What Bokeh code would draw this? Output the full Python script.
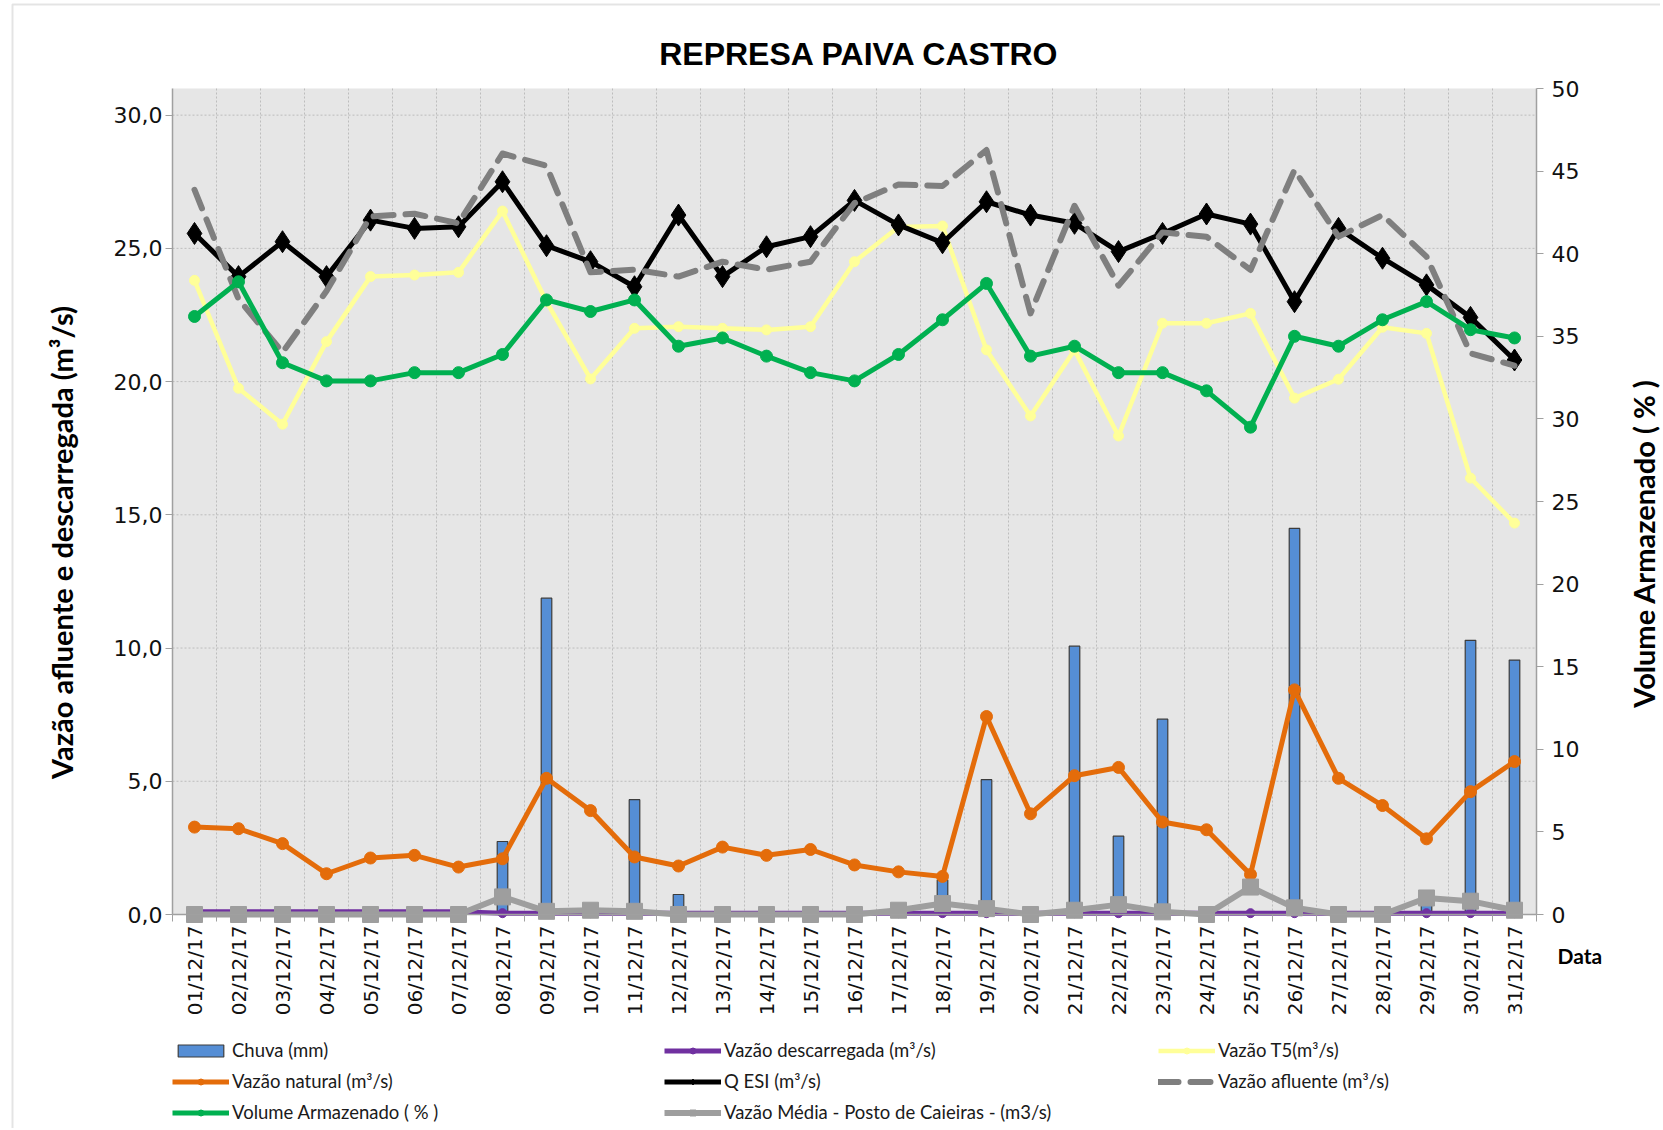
import math
from bokeh.plotting import figure
from bokeh.models import (Range1d, LinearAxis, FixedTicker, CustomJSTickFormatter,
                          Legend, LegendItem, Label, BoxAnnotation)
from bokeh.embed import file_html
from bokeh.resources import INLINE

# ---------------- data ----------------
days = [1, 2, 3, 4, 5, 6, 7, 8, 9, 10, 11, 12, 13, 14, 15, 16,
        17, 18, 19, 20, 21, 22, 23, 24, 25, 26, 27, 28, 29, 30, 31]
dates = ["01/12/17", "02/12/17", "03/12/17", "04/12/17", "05/12/17", "06/12/17",
         "07/12/17", "08/12/17", "09/12/17", "10/12/17", "11/12/17", "12/12/17",
         "13/12/17", "14/12/17", "15/12/17", "16/12/17", "17/12/17", "18/12/17",
         "19/12/17", "20/12/17", "21/12/17", "22/12/17", "23/12/17", "24/12/17",
         "25/12/17", "26/12/17", "27/12/17", "28/12/17", "29/12/17", "30/12/17",
         "31/12/17"]

chuva = [0, 0, 0, 0, 0, 0, 0, 2.74, 11.87, 0, 4.31, 0.75, 0, 0, 0, 0,
         0, 1.3, 5.06, 0, 10.07, 2.94, 7.33, 0, 0, 14.49, 0, 0, 0.5, 10.29, 9.55]
vazao_descarregada = [0.1, 0.1, 0.1, 0.1, 0.1, 0.1, 0.1, 0.05, 0.05, 0.05, 0.05,
                      0.05, 0.05, 0.05, 0.05, 0.05, 0.05, 0.05, 0.05, 0.05, 0.05,
                      0.05, 0.05, 0.05, 0.05, 0.05, 0.05, 0.05, 0.05, 0.05, 0.05]
vazao_t5 = [23.8, 19.75, 18.4, 21.5, 23.94, 24.0, 24.1, 26.4, 23.0, 20.1, 22.0,
            22.06, 22.0, 21.94, 22.06, 24.5, 25.8, 25.84, 21.19, 18.71, 21.19,
            17.96, 22.19, 22.19, 22.56, 19.38, 20.09, 22.04, 21.81, 16.38, 14.69]
vazao_natural = [3.28, 3.22, 2.66, 1.53, 2.12, 2.22, 1.78, 2.09, 5.11, 3.9, 2.16,
                 1.82, 2.53, 2.22, 2.44, 1.86, 1.6, 1.43, 7.43, 3.78, 5.21, 5.52,
                 3.47, 3.18, 1.5, 8.43, 5.11, 4.09, 2.84, 4.61, 5.74]
q_esi = [25.56, 23.94, 25.25, 23.94, 26.06, 25.75, 25.81, 27.5, 25.1, 24.5, 23.56,
         26.25, 23.94, 25.06, 25.44, 26.8, 25.88, 25.21, 26.75, 26.25, 25.94,
         24.88, 25.56, 26.29, 25.91, 23.0, 25.75, 24.63, 23.63, 22.41, 20.81]
vazao_afluente = [27.2, 23.1, 21.1, 23.4, 26.2, 26.3, 25.94, 28.56, 28.1, 24.1, 24.2,
                  23.94, 24.5, 24.2, 24.5, 26.7, 27.4, 27.34, 28.69, 22.56, 26.6,
                  23.6, 25.6, 25.44, 24.19, 27.94, 25.44, 26.25, 24.69, 21.06, 20.6]
volume_armazenado = [36.2, 38.3, 33.4, 32.3, 32.3, 32.8, 32.8, 33.9, 37.2, 36.5, 37.2,
                     34.4, 34.9, 33.8, 32.8, 32.3, 33.9, 36.0, 38.2, 33.8, 34.4,
                     32.8, 32.8, 31.7, 29.5, 35.0, 34.4, 36.0, 37.1, 35.4, 34.9]
vazao_media = [0, 0, 0, 0, 0, 0, 0, 0.66, 0.12, 0.16, 0.12, 0, 0, 0, 0, 0,
               0.16, 0.41, 0.22, 0, 0.16, 0.37, 0.1, 0, 1.03, 0.25, 0, 0, 0.62, 0.5, 0.16]

left_ticks = [0, 5, 10, 15, 20, 25, 30]
right_ticks = [0, 5, 10, 15, 20, 25, 30, 35, 40, 45, 50]

# ---------------- layout (pixels) ----------------
W, H = 1660, 1128
FL, FR, FT, FB = 172, 1536, 88, 914        # plot-area box in pixels
X0, X1 = 0.5, 31.5                         # category extent
YL_TOP, YR_TOP = 31.0, 50.0                # left / right axis top values

KX = (FR - FL) / (X1 - X0)
KY = (FB - FT) / YL_TOP
KR = (FB - FT) / YR_TOP
x_start = X0 - FL / KX
x_end = X1 + (W - FR) / KX
y_top = YL_TOP + FT / KY
y_bot = -(H - FB) / KY
r_top = YR_TOP + FT / KR
r_bot = -(H - FB) / KR


def PX(px):
    return x_start + px / KX


def PY(py):
    return y_top - py / KY


p = figure(width=W, height=H, output_backend="svg", toolbar_location=None,
           x_range=Range1d(x_start, x_end), y_range=Range1d(y_bot, y_top),
           x_axis_location=None, y_axis_location=None, title=None,
           min_border=0, background_fill_color="white", border_fill_color="white",
           outline_line_color=None)
p.extra_y_ranges = {"vol": Range1d(r_bot, r_top)}
p.grid.visible = False

# outer chart border
p.add_layout(BoxAnnotation(left=PX(12), top=PY(4), right=PX(W + 50), bottom=PY(H + 50),
                           fill_alpha=0, line_color="#A6A6A6", line_width=2,
                           level="underlay"))
# plot area background
p.add_layout(BoxAnnotation(left=X0, right=X1, bottom=0, top=YL_TOP,
                           fill_color="#E6E6E6", fill_alpha=1, line_alpha=0,
                           level="underlay"))

AX = "#A0A0A0"
TICKFONT = "DejaVu Sans"

# grid lines (dotted) limited to the plot area
inner_bounds = [d + 0.5 for d in days[:-1]]
p.segment(x0=inner_bounds, x1=inner_bounds, y0=[0] * len(inner_bounds),
          y1=[YL_TOP] * len(inner_bounds), line_color="#BDBDBD", line_dash="2 2",
          line_width=1)
grid_y = left_ticks[1:]
p.segment(x0=[X0] * len(grid_y), x1=[X1] * len(grid_y), y0=grid_y, y1=grid_y,
          line_color="#BDBDBD", line_dash="2 2", line_width=1)

# x axis
boundaries = [d - 0.5 for d in days] + [days[-1] + 0.5]
xa = LinearAxis(fixed_location=0, bounds=(X0, X1))
xa.ticker = FixedTicker(ticks=days, minor_ticks=boundaries)
xa.major_label_overrides = dict(zip(days, dates))
xa.major_label_orientation = math.pi / 2
xa.major_tick_out = 0
xa.major_tick_in = 0
xa.minor_tick_out = 7
xa.minor_tick_in = 0
xa.minor_tick_line_color = AX
xa.axis_line_color = AX
xa.axis_line_width = 1.5
xa.major_label_standoff = 4
xa.major_label_text_font = TICKFONT
xa.major_label_text_font_size = "20px"
xa.major_label_text_color = "#111111"
p.add_layout(xa, "below")

# left y axis
ya = LinearAxis(fixed_location=X0, bounds=(0, YL_TOP))
ya.ticker = FixedTicker(ticks=left_ticks)
ya.formatter = CustomJSTickFormatter(code="return tick.toFixed(1).replace('.', ',');")
ya.minor_tick_line_color = None
ya.major_tick_out = 7
ya.major_tick_in = 0
ya.major_tick_line_color = AX
ya.axis_line_color = AX
ya.axis_line_width = 1.5
ya.major_label_standoff = 3
ya.major_label_text_font = TICKFONT
ya.major_label_text_font_size = "22px"
ya.major_label_text_color = "#111111"
p.add_layout(ya, "left")

# right y axis
yr = LinearAxis(y_range_name="vol", fixed_location=X1, bounds=(0, YR_TOP))
yr.ticker = FixedTicker(ticks=right_ticks)
yr.minor_tick_line_color = None
yr.major_tick_out = 7
yr.major_tick_in = 0
yr.major_tick_line_color = AX
yr.axis_line_color = AX
yr.axis_line_width = 1.5
yr.major_label_standoff = 8
yr.major_label_text_font = TICKFONT
yr.major_label_text_font_size = "22px"
yr.major_label_text_color = "#111111"
p.add_layout(yr, "right")

# ---------------- glyphs ----------------
r_bar = p.vbar(x=days, top=chuva, bottom=0, width=0.24,
               fill_color="#558ED5", line_color="#3C3C3C", line_width=1.2)

PURPLE = "#7030A0"
r_desc_l = p.line(days, vazao_descarregada, line_color=PURPLE, line_width=5, line_join="round")
r_desc_m = p.scatter(days, vazao_descarregada, marker="circle", size=9,
                     fill_color=PURPLE, line_color=PURPLE)

YEL = "#FFFF99"
r_t5_l = p.line(days, vazao_t5, line_color=YEL, line_width=4.5, line_join="round")
r_t5_m = p.scatter(days, vazao_t5, marker="circle", size=10, fill_color=YEL, line_color=YEL)

ORA = "#E46C0A"
r_nat_l = p.line(days, vazao_natural, line_color=ORA, line_width=5, line_join="round")
r_nat_m = p.scatter(days, vazao_natural, marker="circle", size=12, fill_color=ORA, line_color=ORA)

r_qesi_l = p.line(days, q_esi, line_color="#000000", line_width=5, line_join="round")
r_qesi_m = p.scatter(days, q_esi, marker="diamond", size=22, fill_color="#000000",
                     line_color="#000000")

r_afl = p.line(days, vazao_afluente, line_color="#7F7F7F", line_width=6,
               line_dash="20 12", line_cap="round", line_join="round")

GRN = "#00B050"
r_vol_l = p.line(days, volume_armazenado, y_range_name="vol", line_color=GRN,
                 line_width=5, line_join="round")
r_vol_m = p.scatter(days, volume_armazenado, y_range_name="vol", marker="circle",
                    size=12, fill_color=GRN, line_color=GRN)

GRY = "#9E9E9E"
r_med_l = p.line(days, vazao_media, line_color=GRY, line_width=6, line_join="round")
r_med_m = p.scatter(days, vazao_media, marker="square", size=16, fill_color=GRY,
                    line_color=GRY)

# ---------------- texts ----------------
p.add_layout(Label(x=PX(859), y=PY(53), text="REPRESA PAIVA CASTRO",
                   text_align="center", text_baseline="middle",
                   text_font="Liberation Sans", text_font_style="bold",
                   text_font_size="32px", text_color="#000000"))
p.add_layout(Label(x=PX(61), y=PY(542), text="Vazão afluente e descarregada (m³/s)",
                   angle=math.pi / 2, text_align="center", text_baseline="middle",
                   text_font="Lato", text_font_style="bold", text_font_size="29px",
                   text_color="#000000"))
p.add_layout(Label(x=PX(1643), y=PY(543), text="Volume Armazenado ( % )",
                   angle=math.pi / 2, text_align="center", text_baseline="middle",
                   text_font="Lato", text_font_style="bold", text_font_size="29px",
                   text_color="#000000"))
p.add_layout(Label(x=PX(1557), y=PY(955), text="Data", text_align="left",
                   text_baseline="middle", text_font="Lato", text_font_style="bold",
                   text_font_size="21px", text_color="#000000"))

# ---------------- legends ----------------
def make_legend(items, loc):
    lg = Legend(items=items, location=loc)
    lg.border_line_color = None
    lg.background_fill_alpha = 0
    lg.padding = 0
    lg.margin = 0
    lg.spacing = 9
    lg.glyph_width = 57
    lg.glyph_height = 15
    lg.label_height = 20
    lg.label_standoff = 3
    lg.label_text_font = "Lato"
    lg.label_text_font_size = "18.5px"
    lg.label_text_color = "#1A1A1A"
    return lg


leg1 = make_legend([
    LegendItem(label="Chuva (mm)", renderers=[r_bar]),
    LegendItem(label="Vazão natural (m³/s)", renderers=[r_nat_l, r_nat_m]),
    LegendItem(label="Volume Armazenado ( % )", renderers=[r_vol_l, r_vol_m]),
], (172, H - 1123))
leg2 = make_legend([
    LegendItem(label="Vazão descarregada (m³/s)", renderers=[r_desc_l, r_desc_m]),
    LegendItem(label="Q ESI (m³/s)", renderers=[r_qesi_l, r_qesi_m]),
    LegendItem(label="Vazão Média - Posto de Caieiras - (m3/s)", renderers=[r_med_l, r_med_m]),
], (664, H - 1123))
leg3 = make_legend([
    LegendItem(label="Vazão T5(m³/s)", renderers=[r_t5_l, r_t5_m]),
    LegendItem(label="Vazão afluente (m³/s)", renderers=[r_afl]),
], (1158, H - 1092))
for lg in (leg1, leg2, leg3):
    p.add_layout(lg, "center")

open("out.html", "w").write(file_html(p, INLINE))
